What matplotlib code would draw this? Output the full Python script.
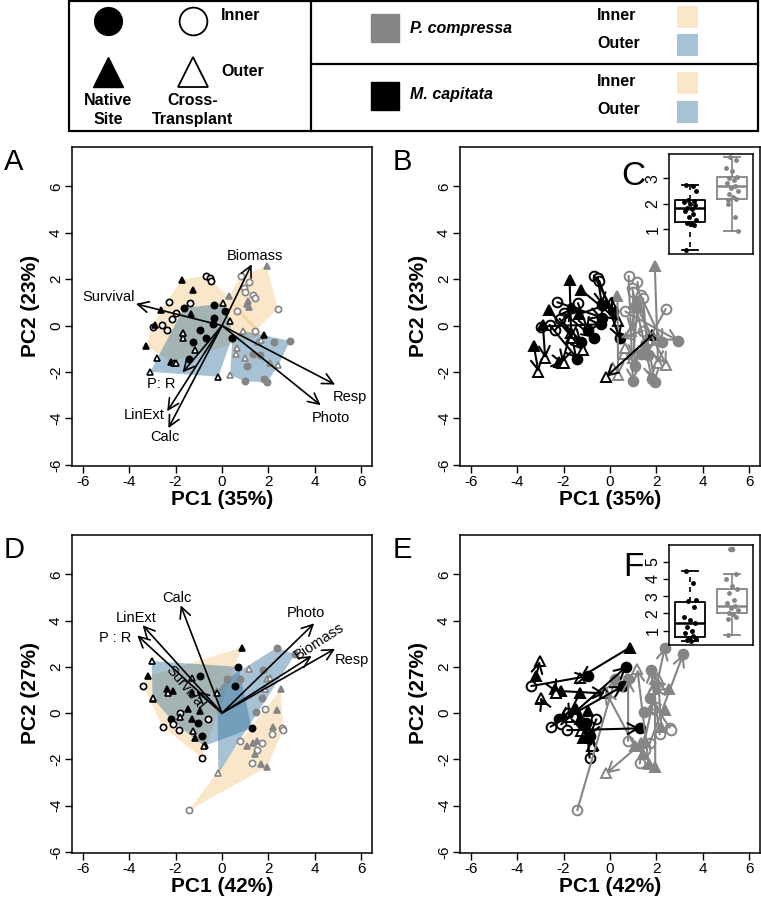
import matplotlib.pyplot as plt
from matplotlib.patches import Polygon, Rectangle
import numpy as np

plt.rcParams['font.family'] = ['Liberation Sans', 'DejaVu Sans']
plt.rcParams['axes.unicode_minus'] = False

# ---------------- data ----------------
# PCA 1 (panels A, B). native / transplant lists are paired by index
mc1_in_nat = [(0.13, 0.63), (-0.35, 0.89), (0.42, -0.55), (-0.35, 0.35), (-0.95, -0.19),
              (-0.70, -0.52), (-1.24, -0.69), (-0.37, 0.06), (-1.41, -1.42), (-1.64, 0.75)]
mc1_in_tr = [(-0.69, 2.16), (-0.52, 2.05), (-0.46, 1.93), (-2.27, 1.01), (-1.38, 0.97),
             (-1.98, 0.53), (-2.17, 0.29), (-2.99, -0.04), (-2.60, 0.03), (-2.36, -0.19)]
mc1_out_nat = [(-3.28, -0.87), (-2.89, 0.03), (-1.74, 1.98), (1.82, -0.40), (-2.62, 0.66),
               (-1.26, 1.55), (-1.35, 0.49), (-1.70, -0.33), (-2.20, -1.56)]
mc1_out_tr = [(-3.08, -1.99), (-2.79, -1.41), (-1.67, -0.55), (-0.16, -2.20), (-1.17, -1.05),
              (0.35, 0.22), (0.06, 0.97), (-2.06, -1.59), (-1.99, -1.59), (-1.69, -0.33)]
pc1_in_nat = [(0.99, -2.40), (1.93, -2.45), (1.81, -2.31), (1.06, -1.73), (2.26, -0.72),
              (1.64, -1.27), (1.32, -1.24), (2.93, -0.65), (0.45, -0.52)]
pc1_in_tr = [(0.80, 2.15), (1.18, 1.88), (0.95, 1.64), (0.99, 1.44), (1.32, 1.30),
             (1.42, 1.18), (2.40, 0.72), (0.66, 0.61), (1.42, -0.23)]
pc1_out_nat = [(1.93, 2.55), (1.09, 0.94), (1.18, 0.82), (0.32, 1.28), (1.14, 1.06)]
pc1_out_tr = [(2.07, -1.63), (2.43, -1.70), (0.99, -1.38), (0.35, -2.13), (0.89, -0.23),
              (0.60, -1.23), (0.63, -0.98), (1.57, -0.69), (1.67, -0.62)]

# PCA 2 (panels D, E)
mc2_in_nat = [(-0.95, 1.60), (0.56, 1.17), (0.70, 2.00), (1.28, -0.66), (-2.21, -0.25),
              (-0.88, -1.00), (-1.02, -0.42)]
mc2_in_tr = [(-3.39, 1.17), (-2.56, -0.59), (-2.10, -0.49), (-1.84, -0.74), (-1.81, 0.01),
             (-0.59, -0.27), (-0.88, -1.93)]
mc2_out_nat = [(-3.18, 1.60), (0.85, 2.83), (-2.96, 0.59), (-2.39, 1.05), (-2.10, 0.95),
               (-1.31, 0.85), (-1.45, 0.19), (-1.31, -0.27), (-1.16, -1.07), (-0.95, 0.09),
               (-0.73, -1.36)]
mc2_out_tr = [(-3.03, 2.25), (-1.30, 1.53), (-2.99, 0.66), (-2.31, 0.88), (-0.23, 0.85),
              (-1.81, -0.16), (-1.26, -0.78), (-0.78, -1.43)]
pc2_in_nat = [(0.23, 1.49), (2.36, 2.83), (3.15, 2.54), (0.78, 1.46), (1.75, 1.86),
              (1.71, 0.66), (1.47, 0.04)]
pc2_in_tr = [(-1.41, -4.20), (1.28, -2.18), (1.71, -1.31), (0.78, -1.21), (2.14, -0.92),
             (2.57, -0.63), (1.85, 0.16), (2.64, -0.71), (1.49, -1.60)]
pc2_out_nat = [(1.35, -1.31), (1.67, -2.22), (1.95, -2.32), (2.21, -0.59), (2.53, 1.02),
               (1.06, -1.43), (2.36, 0.13), (1.52, -1.21), (1.42, -1.79)]
pc2_out_tr = [(-0.16, -2.61), (1.18, 1.89), (1.93, 1.46), (2.07, 1.53), (1.85, 1.02),
              (-0.20, 0.95)]

# loadings
load1_names = ['Biomass', 'Survival', 'Resp', 'Photo', 'P: R', 'LinExt', 'Calc']
load1_x = [1.28, -3.71, 4.87, 4.25, -1.70, -2.36, -2.31]
load1_y = [2.65, 0.94, -2.54, -3.43, -2.02, -3.69, -4.42]
load2_names = ['Calc', 'LinExt', 'P : R', 'Photo', 'Biomass', 'Resp', 'Survival']
load2_x = [-1.78, -3.42, -3.65, 3.97, 3.86, 4.87, -1.10]
load2_y = [4.66, 3.80, 3.36, 3.88, 2.47, 2.78, 0.95]

# inset boxplots (M. capitata, P. compressa)
box_c = [dict(whislo=0.19, q1=1.30, med=1.82, q3=2.15, whishi=2.74, fliers=[]),
         dict(whislo=0.95, q1=2.20, med=2.70, q3=3.04, whishi=3.82, fliers=[])]
box_f = [dict(whislo=0.43, q1=0.65, med=1.46, q3=2.68, whishi=4.47, fliers=[]),
         dict(whislo=0.75, q1=2.00, med=2.45, q3=3.41, whishi=4.29, fliers=[5.72])]
pts_c_mc = [2.74, 2.70, 2.50, 2.15, 2.10, 2.05, 2.00, 1.95, 1.85, 1.80, 1.70, 1.60,
            1.50, 1.35, 1.25, 1.20, 1.15, 0.19]
pts_c_pc = [3.82, 3.70, 3.40, 3.30, 3.05, 3.00, 2.95, 2.80, 2.70, 2.60, 2.50, 2.40,
            2.25, 2.20, 2.15, 2.00, 1.50, 0.95]
pts_f_mc = [4.47, 3.75, 2.80, 2.75, 2.35, 1.80, 1.60, 1.45, 1.20, 1.00, 0.85, 0.70,
            0.60, 0.50, 0.45, 0.43]
pts_f_pc = [5.72, 4.29, 4.00, 3.60, 3.40, 3.20, 2.80, 2.60, 2.45, 2.30, 2.20, 2.00,
            1.95, 1.80, 1.70, 0.75]

# ---------------- style ----------------
BLACK = 'black'
GREY = '#858585'
ORANGE = '#F0B050'
BLUE = '#2F6F9A'
A_OR, A_BL = 0.3, 0.42
W, H = 761, 910

fig = plt.figure(figsize=(W / 100, H / 100), dpi=100)


def px_axes(left, top, right, bottom):
    return fig.add_axes([left / W, 1 - bottom / H, (right - left) / W, (bottom - top) / H])


def ftext(x, y, s, **kw):
    fig.text(x / W, 1 - y / H, s, **kw)


def hull(pts):
    p = sorted(set(pts))
    def cross(o, a, b):
        return (a[0] - o[0]) * (b[1] - o[1]) - (a[1] - o[1]) * (b[0] - o[0])
    lower, upper = [], []
    for q in p:
        while len(lower) >= 2 and cross(lower[-2], lower[-1], q) <= 0:
            lower.pop()
        lower.append(q)
    for q in reversed(p):
        while len(upper) >= 2 and cross(upper[-2], upper[-1], q) <= 0:
            upper.pop()
        upper.append(q)
    return lower[:-1] + upper[:-1]


def setup(ax, xlab, ylab, left, bottom):
    ax.set_xlim(-6.46, 6.46)
    ax.set_ylim(-6.05, 7.7)
    ax.set_xticks(np.arange(-6, 7, 2))
    ax.set_yticks(np.arange(-6, 7, 2))
    ax.set_yticklabels([str(v) for v in range(-6, 7, 2)], rotation=90, va='center')
    ax.tick_params(labelsize=11, length=5, width=1, pad=1.5)
    for s in ax.spines.values():
        s.set_linewidth(1.1)
    ftext(left + 150, bottom + 33, xlab, ha='center', va='center', fontsize=15, fontweight='bold')
    ftext(left - 42, bottom - 160, ylab, ha='center', va='center', fontsize=15,
          fontweight='bold', rotation=90)


def draw_points(ax, groups, color, ms, mew, z=3):
    in_nat, in_tr, out_nat, out_tr = groups
    for pts, mk, filled in [(in_nat, 'o', True), (in_tr, 'o', False),
                            (out_nat, '^', True), (out_tr, '^', False)]:
        xs = [p[0] for p in pts]
        ys = [p[1] for p in pts]
        ax.plot(xs, ys, ls='none', marker=mk, ms=ms, mew=mew, mec=color,
                mfc=color if filled else 'white', zorder=z)


def draw_hulls(ax, groups):
    in_nat, in_tr, out_nat, out_tr = groups
    ax.add_patch(Polygon(hull(out_nat + in_tr), closed=True, fc=ORANGE, alpha=A_OR, ec='none', zorder=1))
    ax.add_patch(Polygon(hull(in_nat + out_tr), closed=True, fc=BLUE, alpha=A_BL, ec='none', zorder=1))


def draw_moves(ax, groups, color):
    in_nat, in_tr, out_nat, out_tr = groups
    props = dict(arrowstyle='->,head_length=0.55,head_width=0.3', color=color, lw=1.5,
                 shrinkA=0, shrinkB=0, mutation_scale=13)
    for s, e in list(zip(in_tr, in_nat)) + list(zip(out_nat, out_tr)):
        ax.annotate('', xy=e, xytext=s, arrowprops=props, zorder=4)


def draw_loadings(ax, names, lx, ly, offsets, rots):
    props = dict(arrowstyle='->,head_length=0.6,head_width=0.3', color='black', lw=1.2,
                 shrinkA=0, shrinkB=0, mutation_scale=13)
    for n, x, y, (dx, dy), r in zip(names, lx, ly, offsets, rots):
        ax.annotate('', xy=(x, y), xytext=(0, 0), arrowprops=props, zorder=5)
        ax.text(x + dx, y + dy, n, ha='center', va='center', fontsize=10.5, rotation=r, zorder=6)


def draw_inset(ax, stats, pmc, ppc, ylim, ticks, letter):
    b = ax.bxp(stats, positions=[1, 2], widths=0.72, showfliers=True,
               flierprops=dict(marker='o', ms=3, mfc=GREY, mec=GREY))
    for i, c in enumerate([BLACK, GREY]):
        b['boxes'][i].set(color=c, lw=1.3)
        b['medians'][i].set(color=c, lw=1.8)
        for w in b['whiskers'][2 * i:2 * i + 2]:
            w.set(color=c, lw=1.2, ls=(0, (3, 3)) if i == 0 else '-')
        for cp in b['caps'][2 * i:2 * i + 2]:
            cp.set(color=c, lw=1.3)
    jit = [-0.1, 0.06, 0.14, -0.04, 0.1, -0.14, 0.0, 0.12, -0.08, 0.04, -0.12, 0.08, -0.02, 0.15, -0.06, 0.02, 0.1, -0.1]
    ax.plot([1 + jit[i % len(jit)] for i in range(len(pmc))], pmc, 'o', ms=2.5, color=BLACK, zorder=5)
    ax.plot([2 + jit[(i + 3) % len(jit)] for i in range(len(ppc))], ppc, 'o', ms=2.5, color=GREY, zorder=5)
    ax.set_xlim(0.5, 2.5)
    ax.set_ylim(*ylim)
    ax.set_xticks([])
    ax.set_yticks(ticks)
    ax.set_yticklabels([str(t) for t in ticks], rotation=90, va='center')
    ax.tick_params(labelsize=11.5, length=4, width=1, pad=2)
    for s in ax.spines.values():
        s.set_linewidth(1.1)
    ax.text(-0.42, 0.78, letter, transform=ax.transAxes, fontsize=24, ha='center', va='center')


set1_mc = (mc1_in_nat, mc1_in_tr, mc1_out_nat, mc1_out_tr)
set1_pc = (pc1_in_nat, pc1_in_tr, pc1_out_nat, pc1_out_tr)
set2_mc = (mc2_in_nat, mc2_in_tr, mc2_out_nat, mc2_out_tr)
set2_pc = (pc2_in_nat, pc2_in_tr, pc2_out_nat, pc2_out_tr)

off1 = [(0.14, 0.34), (-1.19, 0.29), (0.65, -0.53), (0.43, -0.55), (-0.90, -0.51), (-1.0, -0.18), (-0.15, -0.39)]
rot1 = [0] * 7
off2 = [(-0.15, 0.33), (-0.29, 0.33), (-0.96, -0.11), (-0.35, 0.43), (0.34, 0.65), (0.72, -0.49), (-0.49, 0.17)]
rot2 = [0, 0, 0, 0, 33, 0, -50]

# panel A
axA = px_axes(72, 147, 372, 466)
setup(axA, 'PC1 (35%)', 'PC2 (23%)', 72, 466)
draw_hulls(axA, set1_mc)
draw_hulls(axA, set1_pc)
draw_points(axA, set1_pc, GREY, 4.5, 1.2)
draw_points(axA, set1_mc, BLACK, 4.5, 1.2)
draw_loadings(axA, load1_names, load1_x, load1_y, off1, rot1)

# panel B
axB = px_axes(460, 147, 760, 466)
setup(axB, 'PC1 (35%)', 'PC2 (23%)', 460, 466)
draw_points(axB, set1_pc, GREY, 7, 1.4)
draw_moves(axB, set1_pc, GREY)
draw_points(axB, set1_mc, BLACK, 7, 1.4)
draw_moves(axB, set1_mc, BLACK)

# panel D
axD = px_axes(72, 535, 372, 853)
setup(axD, 'PC1 (42%)', 'PC2 (27%)', 72, 853)
draw_hulls(axD, set2_mc)
draw_hulls(axD, set2_pc)
draw_points(axD, set2_pc, GREY, 4.5, 1.2)
draw_points(axD, set2_mc, BLACK, 4.5, 1.2)
draw_loadings(axD, load2_names, load2_x, load2_y, off2, rot2)

# panel E
axE = px_axes(460, 535, 760, 853)
setup(axE, 'PC1 (42%)', 'PC2 (27%)', 460, 853)
draw_points(axE, set2_pc, GREY, 7, 1.4)
draw_moves(axE, set2_pc, GREY)
draw_points(axE, set2_mc, BLACK, 7, 1.4)
draw_moves(axE, set2_mc, BLACK)

# insets
axC = px_axes(669, 154, 753, 254)
draw_inset(axC, box_c, pts_c_mc, pts_c_pc, (0.03, 3.95), [1, 2, 3], 'C')
axF = px_axes(669, 545, 753, 645)
draw_inset(axF, box_f, pts_f_mc, pts_f_pc, (0.17, 5.97), [1, 2, 3, 4, 5], 'F')

for lab, x, y in [('A', 14, 162), ('B', 402, 162), ('D', 14, 550), ('E', 402, 550)]:
    ftext(x, y, lab, fontsize=21, ha='center', va='center')

# ---------------- legend ----------------
leg = px_axes(0, 0, W, 135)
leg.set_xlim(0, W)
leg.set_ylim(135, 0)
leg.axis('off')
leg.add_patch(Rectangle((69, 1), 689, 130, fill=False, lw=1.6, ec='black'))
leg.plot([311, 311], [1, 131], color='black', lw=1.6)
leg.plot([311, 758], [64, 64], color='black', lw=1.6)
leg.plot([108], [21], 'o', ms=20, color='black')
leg.plot([193], [21], 'o', ms=20, mfc='white', mec='black', mew=1.3)
leg.plot([108], [72], '^', ms=22, color='black')
leg.plot([193], [72], '^', ms=22, mfc='white', mec='black', mew=1.3)
tk = dict(fontsize=11.5, fontweight='bold', va='center')
leg.text(221, 16, 'Inner', ha='left', **tk)
leg.text(221, 71, 'Outer', ha='left', **tk)
leg.text(108, 110, 'Native\nSite', ha='center', linespacing=1.3, **tk)
leg.text(193, 110, 'Cross-\nTransplant', ha='center', linespacing=1.3, **tk)
leg.plot([385], [28], 's', ms=19.5, color=GREY)
leg.plot([385], [96], 's', ms=19.5, color='black')
leg.text(410, 29, 'P. compressa', ha='left', style='italic', **tk)
leg.text(410, 95, 'M. capitata', ha='left', style='italic', **tk)
for yi, yo in [(16, 43), (82, 110)]:
    leg.text(597, yi, 'Inner', ha='left', **tk)
    leg.text(597, yo, 'Outer', ha='left', **tk)
    leg.add_patch(Rectangle((677, yi - 10), 21, 22, fc=ORANGE, alpha=A_OR, ec='none'))
    leg.add_patch(Rectangle((677, yo - 9), 21, 22, fc=BLUE, alpha=A_BL, ec='none'))

fig.savefig('out.png', dpi=100, facecolor='white')
